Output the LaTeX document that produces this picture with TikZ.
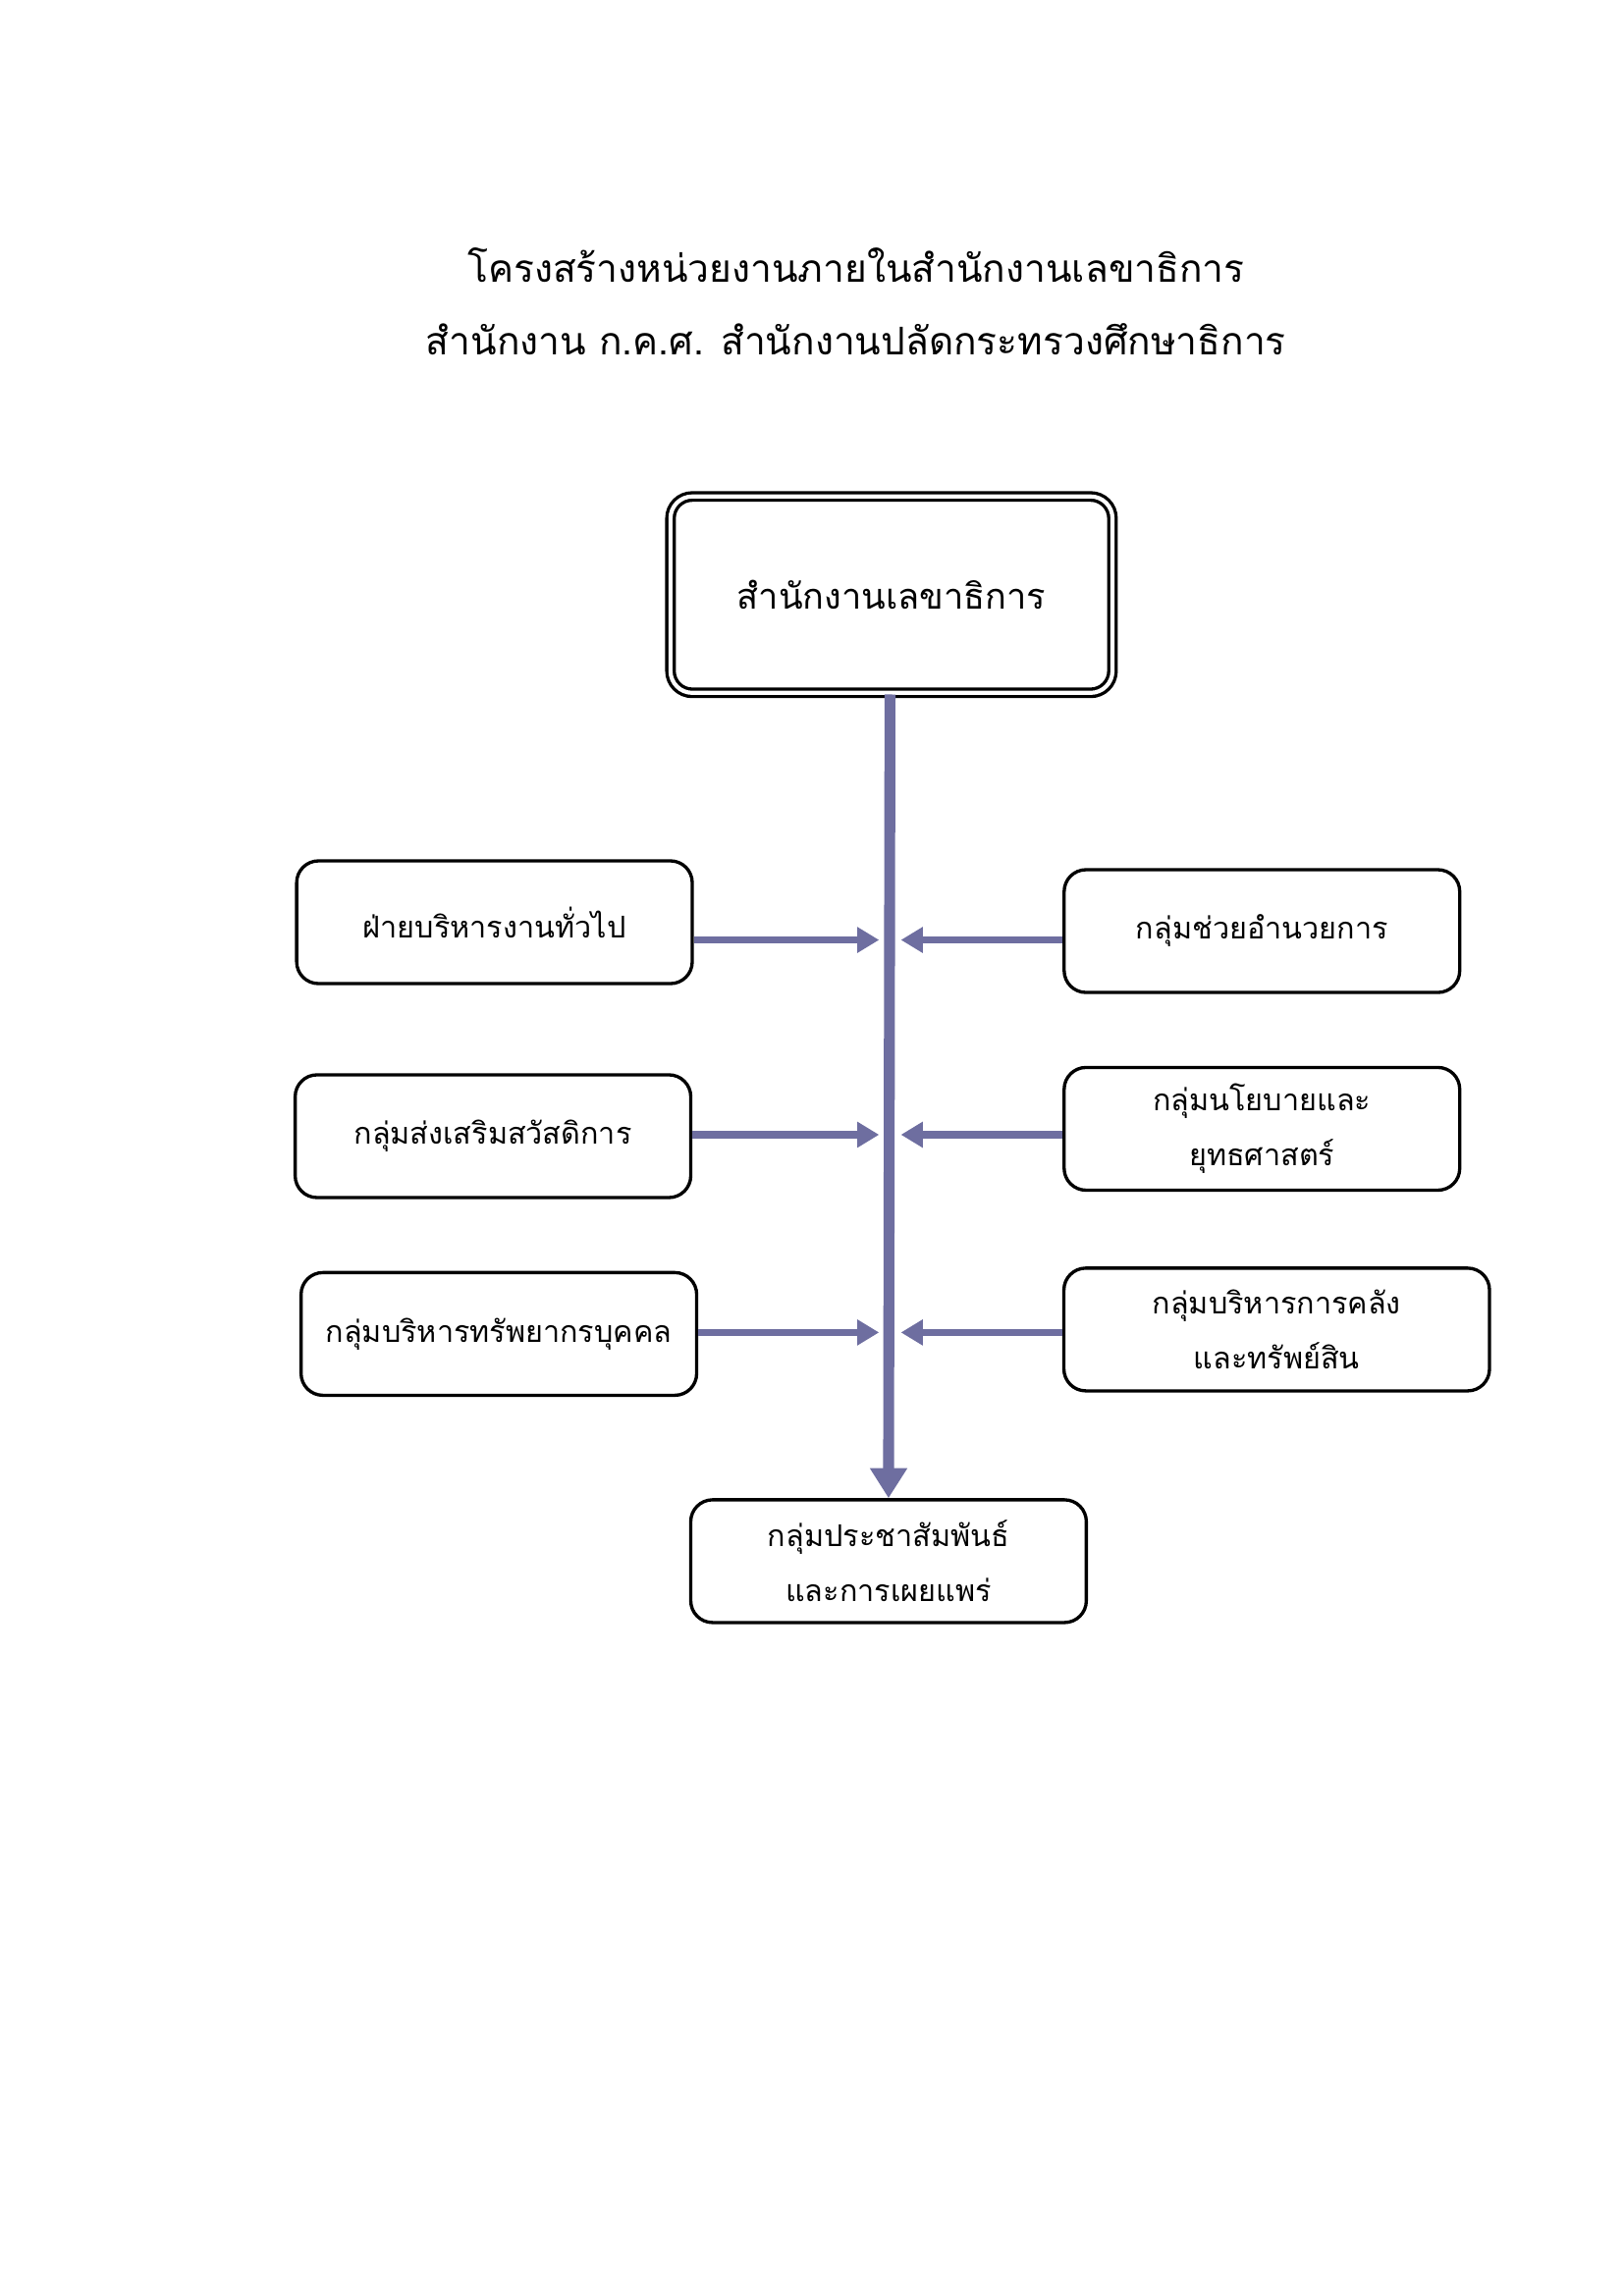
\documentclass[tikz,border=0pt]{standalone}
\usepackage{fontspec}
\newfontfamily\thaifont[Script=Thai]{Loma}
\usetikzlibrary{arrows.meta}
\definecolor{linkcol}{RGB}{110,110,160}

\tikzset{
  unit/.style={draw,line width=1.2pt,rounded corners=8pt,align=center,font=\thaifont\fontsize{11}{20}\selectfont},
  link/.style={linkcol,line width=2.6pt,-{Triangle[length=8pt,width=9pt]}}
}

\begin{document}
\begin{tikzpicture}[x=0.541pt,y=-0.541pt]
  \useasboundingbox (0,0) rectangle (1100,1556);

  \node[font=\thaifont\fontsize{14}{14}\selectfont] at (580,180) (t1) {โครงสร้างหน่วยงานภายในสำนักงานเลขาธิการ};
  \node[font=\thaifont\fontsize{14}{14}\selectfont] at (580,230) (t2) {สำนักงาน ก.ค.ศ. สำนักงานปลัดกระทรวงศึกษาธิการ};

  \node[unit,double,double distance=1.5pt,minimum width=162pt,minimum height=72pt,font=\thaifont\fontsize{13}{13}\selectfont] at (604,403) (top) {สำนักงานเลขาธิการ};

  \node[unit,minimum width=145pt,minimum height=45pt] at (335,625) (l1) {ฝ่ายบริหารงานทั่วไป};
  \node[unit,minimum width=145pt,minimum height=45pt] at (334,770) (l2) {กลุ่มส่งเสริมสวัสดิการ};
  \node[unit,minimum width=145pt,minimum height=45pt] at (338,904) (l3) {กลุ่มบริหารทรัพยากรบุคคล};

  \node[unit,minimum width=145pt,minimum height=45pt] at (855,631) (r1) {กลุ่มช่วยอำนวยการ};
  \node[unit,minimum width=145pt,minimum height=45pt] at (855,765) (r2) {กลุ่มนโยบายและ\\ยุทธศาสตร์};
  \node[unit,minimum width=156pt,minimum height=45pt] at (865,901) (r3) {กลุ่มบริหารการคลัง\\และทรัพย์สิน};

  \node[unit,minimum width=145pt,minimum height=45pt] at (602,1058) (bot) {กลุ่มประชาสัมพันธ์\\และการเผยแพร่};

  \coordinate (a1) at (603,637);
  \coordinate (a2) at (603,769);
  \coordinate (a3) at (603,903);

  \draw[link,line width=4pt,-{Triangle[length=11pt,width=13pt]}] (top.south -| bot.north) ++(1,0) -- (bot.north);
  \draw[link] (l1.east |- a1) -- ([xshift=-4pt]a1);
  \draw[link] (l2.east |- a2) -- ([xshift=-4pt]a2);
  \draw[link] (l3.east |- a3) -- ([xshift=-4pt]a3);
  \draw[link] (r1.west |- a1) -- ([xshift=4pt]a1);
  \draw[link] (r2.west |- a2) -- ([xshift=4pt]a2);
  \draw[link] (r3.west |- a3) -- ([xshift=4pt]a3);
\end{tikzpicture}
\end{document}
